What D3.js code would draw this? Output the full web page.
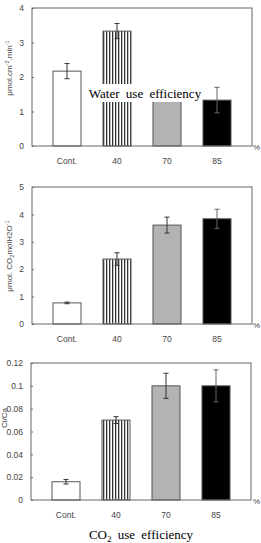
<!DOCTYPE html>
<html>
<head>
<meta charset="utf-8">
<script src="https://cdn.jsdelivr.net/npm/d3@7"></script>
<style>
  body { margin: 0; background: #fff; }
  svg { display: block; }
  .tick text { font-family: "Liberation Sans", Arial, sans-serif; font-size: 8.5px; fill: #444; }
  .ylab { font-family: "Liberation Sans", Arial, sans-serif; font-size: 8px; fill: #444; }
  .title { font-family: "Liberation Serif", "Times New Roman", serif; font-size: 13px; fill: #000; word-spacing: 3px; }
</style>
</head>
<body>
<div id="chart"></div>
<script>
'use strict';

const categories = ['Cont.', '40', '70', '85'];

// panel 1: photosynthesis rate
const rateValues = [2.17, 3.33, 1.45, 1.33];
const rateErrors = [0.22, 0.22, 0.15, 0.37];
const rateTicks = [0, 1, 2, 3, 4];

// panel 2: water use efficiency
const wueValues = [0.77, 2.37, 3.61, 3.84];
const wueErrors = [0.03, 0.23, 0.29, 0.35];
const wueTicks = [0, 1, 2, 3, 4, 5];

// panel 3: Ci/Ca
const ciValues = [0.016, 0.070, 0.100, 0.100];
const ciErrors = [0.002, 0.003, 0.011, 0.014];
const ciTicks = [0, 0.02, 0.04, 0.06, 0.08, 0.1, 0.12];

const fills = ['#fff', 'url(#vstripe)', '#b3b3b3', '#000'];

const svg = d3.select('#chart').append('svg')
    .attr('width', 261)
    .attr('height', 543);

// vertical hatching for the 40% bar
const pat = svg.append('defs').append('pattern')
    .attr('id', 'vstripe')
    .attr('patternUnits', 'userSpaceOnUse')
    .attr('width', 3)
    .attr('height', 10);
pat.append('rect').attr('width', 3).attr('height', 10).attr('fill', '#fff');
pat.append('rect').attr('x', 1).attr('width', 1.3).attr('height', 10).attr('fill', '#333');

function panel(opts) {
  const { left, right, top, bottom } = opts;

  const x = d3.scaleBand()
      .domain(categories)
      .range([left, right])
      .paddingInner(0.44)
      .paddingOuter(0.42);

  const y = d3.scaleLinear()
      .domain([0, d3.max(opts.ticks)])
      .range([bottom, top]);

  const g = svg.append('g');

  // bars
  g.selectAll('.bar')
      .data(opts.values)
    .enter().append('rect')
      .attr('class', 'bar')
      .attr('x', (d, i) => x(categories[i]))
      .attr('y', d => y(d))
      .attr('width', x.bandwidth())
      .attr('height', d => bottom - y(d))
      .attr('fill', (d, i) => fills[i])
      .attr('stroke', '#555')
      .attr('stroke-width', 1);

  // error bars
  const eb = g.selectAll('.err')
      .data(opts.values.map((v, i) => ({ v: v, e: opts.errors[i], c: categories[i] })))
    .enter().append('g')
      .attr('class', 'err')
      .attr('stroke', (d, i) => i === 3 ? '#666' : '#333')
      .attr('stroke-width', 1);
  const cx = d => x(d.c) + x.bandwidth() / 2;
  eb.append('line')
      .attr('x1', cx).attr('x2', cx)
      .attr('y1', d => y(d.v + d.e)).attr('y2', d => y(d.v - d.e));
  eb.append('line')
      .attr('x1', d => cx(d) - 2.5).attr('x2', d => cx(d) + 2.5)
      .attr('y1', d => y(d.v + d.e)).attr('y2', d => y(d.v + d.e));
  eb.append('line')
      .attr('x1', d => cx(d) - 2.5).attr('x2', d => cx(d) + 2.5)
      .attr('y1', d => y(d.v - d.e)).attr('y2', d => y(d.v - d.e));

  // frame
  g.append('rect')
      .attr('x', left).attr('y', top)
      .attr('width', right - left).attr('height', bottom - top)
      .attr('fill', 'none')
      .attr('stroke', '#666')
      .attr('stroke-width', 1);

  // y axis, small inward ticks
  const ya = g.append('g')
      .attr('transform', `translate(${left},0)`)
      .call(d3.axisLeft(y).tickValues(opts.ticks).tickSize(-2).tickPadding(8).tickFormat(d => String(+d.toFixed(2))));
  ya.select('.domain').remove();
  ya.selectAll('.tick line').attr('stroke', '#666');

  // x axis labels
  const xa = g.append('g')
      .attr('transform', `translate(0,${bottom})`)
      .call(d3.axisBottom(x).tickSize(0).tickPadding(opts.xPad));
  xa.select('.domain').remove();

  g.append('text')
      .attr('class', 'ylab')
      .attr('x', 253).attr('y', bottom + 4)
      .text('%');

  g.append('text')
      .attr('class', 'ylab')
      .attr('transform', `translate(${opts.labX},${opts.labY}) rotate(-90)`)
      .attr('text-anchor', 'middle')
      .html(opts.label);

  return g;
}

panel({
  left: 32, right: 252, top: 8, bottom: 146,
  values: rateValues, errors: rateErrors, ticks: rateTicks, xPad: 12,
  labX: 12, labY: 68,
  label: 'μmol.cm<tspan dy="-3" font-size="5.5">-2</tspan><tspan dy="3">.min</tspan><tspan dy="-3" font-size="5.5">-1</tspan>'
});

panel({
  left: 32, right: 252, top: 187, bottom: 324,
  values: wueValues, errors: wueErrors, ticks: wueTicks, xPad: 12,
  labX: 12, labY: 256,
  label: 'μmol. CO<tspan dy="2" font-size="5.5">2</tspan><tspan dy="-2">molH2O</tspan><tspan dy="-3" font-size="5.5">-1</tspan>'
});

panel({
  left: 31, right: 251, top: 363, bottom: 500,
  values: ciValues, errors: ciErrors, ticks: ciTicks, xPad: 12,
  labX: 7, labY: 418,
  label: 'Ci/Ca'
});

// caption over panel 1, sits on a white box
const cap1 = svg.append('g');
cap1.append('rect')
    .attr('x', 88).attr('y', 84).attr('width', 114).attr('height', 18)
    .attr('fill', '#fff');
cap1.append('text')
    .attr('class', 'title')
    .attr('x', 145).attr('y', 98)
    .attr('text-anchor', 'middle')
    .text('Water use efficiency');

svg.append('text')
    .attr('class', 'title')
    .attr('x', 141).attr('y', 539)
    .attr('text-anchor', 'middle')
    .html('CO<tspan dy="3" font-size="9">2</tspan><tspan dy="-3"> use efficiency</tspan>');
</script>
</body>
</html>
